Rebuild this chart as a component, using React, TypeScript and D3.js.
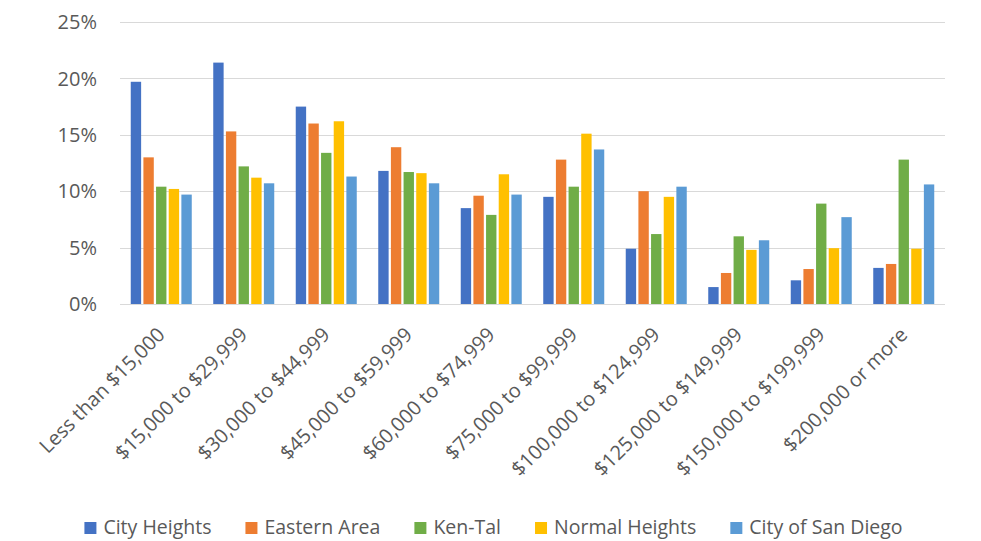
import React, { useEffect, useRef } from "react";
import * as d3 from "d3";

const categories = [
  "Less than $15,000",
  "$15,000 to $29,999",
  "$30,000 to $44,999",
  "$45,000 to $59,999",
  "$60,000 to $74,999",
  "$75,000 to $99,999",
  "$100,000 to $124,999",
  "$125,000 to $149,999",
  "$150,000 to $199,999",
  "$200,000 or more",
];

const seriesNames = ["City Heights", "Eastern Area", "Ken-Tal", "Normal Heights", "City of San Diego"];
const seriesColors = ["#4472C4", "#ED7D31", "#70AD47", "#FFC000", "#5B9BD5"];

const cityHeights = [19.7, 21.4, 17.5, 11.8, 8.5, 9.5, 4.9, 1.5, 2.1, 3.2];
const easternArea = [13.0, 15.3, 16.0, 13.9, 9.6, 12.8, 10.0, 2.75, 3.1, 3.55];
const kenTal = [10.4, 12.2, 13.4, 11.7, 7.9, 10.4, 6.2, 6.0, 8.9, 12.8];
const normalHeights = [10.2, 11.2, 16.2, 11.6, 11.5, 15.1, 9.5, 4.8, 4.95, 4.9];
const cityOfSanDiego = [9.7, 10.7, 11.3, 10.7, 9.7, 13.7, 10.4, 5.65, 7.7, 10.6];

const seriesValues = [cityHeights, easternArea, kenTal, normalHeights, cityOfSanDiego];
const yTicks = [0, 5, 10, 15, 20, 25];

const W = 981;
const H = 541;
const FONT = "'Open Sans', sans-serif";
const TEXT = "#595959";

export default function App() {
  const ref = useRef<SVGSVGElement | null>(null);

  useEffect(() => {
    const svg = d3.select(ref.current);
    svg.selectAll("*").remove();

    const left = 120, right = 945, top = 22, bottom = 304;
    const x = d3.scaleBand<string>().domain(categories).range([left, right]).paddingInner(0).paddingOuter(0);
    const groupW = 61;
    const xs = d3
      .scaleBand<string>()
      .domain(seriesNames)
      .range([(x.bandwidth() - groupW) / 2, (x.bandwidth() + groupW) / 2])
      .paddingInner(0.18)
      .paddingOuter(0);
    const y = d3.scaleLinear().domain([0, 25]).range([bottom, top]);

    svg.append("rect").attr("width", W).attr("height", H).attr("fill", "#fff");

    // gridlines
    svg
      .append("g")
      .selectAll("line")
      .data(yTicks)
      .join("line")
      .attr("x1", left)
      .attr("x2", right)
      .attr("y1", (d) => Math.round(y(d)) + 0.5)
      .attr("y2", (d) => Math.round(y(d)) + 0.5)
      .attr("stroke", "#d9d9d9")
      .attr("stroke-width", 1.2);

    // y labels
    svg
      .append("g")
      .selectAll("text")
      .data(yTicks)
      .join("text")
      .attr("x", 97)
      .attr("y", (d) => y(d))
      .attr("dy", "0.36em")
      .attr("text-anchor", "end")
      .attr("font-family", FONT)
      .attr("font-size", 20)
      .attr("fill", TEXT)
      .text((d) => `${d}%`);

    // bars
    const rows = categories.flatMap((c, i) =>
      seriesNames.map((s, j) => ({ c, s, j, v: seriesValues[j][i] }))
    );
    svg
      .append("g")
      .selectAll("rect")
      .data(rows)
      .join("rect")
      .attr("x", (d) => (x(d.c) as number) + (xs(d.s) as number))
      .attr("width", xs.bandwidth())
      .attr("y", (d) => y(d.v))
      .attr("height", (d) => y(0) - y(d.v))
      .attr("fill", (d) => seriesColors[d.j]);

    // x labels
    svg
      .append("g")
      .selectAll("text")
      .data(categories)
      .join("text")
      .attr("transform", (d) => `translate(${(x(d) as number) + x.bandwidth() / 2},331) rotate(-45)`)
      .attr("dy", "0.35em")
      .attr("text-anchor", "end")
      .attr("font-family", FONT)
      .attr("font-size", 20)
      .attr("fill", TEXT)
      .text((d) => d);

    // legend
    const lg = svg.append("g");
    const items = lg
      .selectAll("g")
      .data(seriesNames)
      .join("g");
    items
      .append("rect")
      .attr("width", 12)
      .attr("height", 12)
      .attr("y", -5)
      .attr("fill", (_, i) => seriesColors[i]);
    items
      .append("text")
      .attr("x", 19)
      .attr("dy", "0.36em")
      .attr("font-family", FONT)
      .attr("font-size", 19.5)
      .attr("fill", TEXT)
      .text((d) => d);
    const widths: number[] = [];
    items.each(function () {
      const t = (this as SVGGElement).querySelector("text") as SVGTextElement;
      widths.push(19 + t.getComputedTextLength());
    });
    const gap = 34;
    const total = d3.sum(widths) + gap * (widths.length - 1);
    let cur = W / 2 + 3 - total / 2;
    items.attr("transform", (_, i) => {
      const tx = cur;
      cur += widths[i] + gap;
      return `translate(${tx},527)`;
    });
  }, []);

  return (
    <svg
      ref={ref}
      width={W}
      height={H}
      style={{ position: "absolute", left: 0, top: 0, display: "block" }}
    />
  );
}
